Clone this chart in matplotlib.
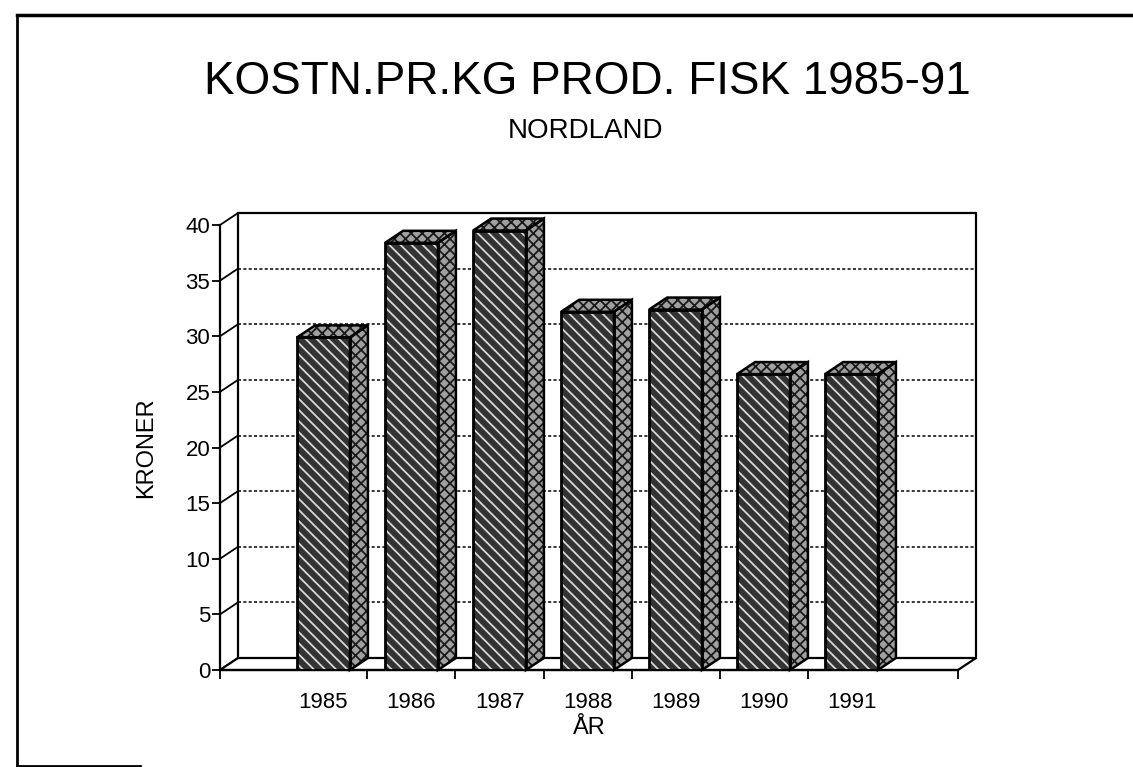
import numpy as np
import matplotlib.pyplot as plt
from matplotlib.patches import Polygon
from matplotlib.lines import Line2D

aar = ['1985', '1986', '1987', '1988', '1989', '1990', '1991']
kroner = [29.9, 38.4, 39.5, 32.2, 32.4, 26.6, 26.6]
yticks = [0, 5, 10, 15, 20, 25, 30, 35, 40]

plt.rcParams['font.family'] = ['Liberation Sans', 'DejaVu Sans']
plt.rcParams['hatch.linewidth'] = 1.3

W, H = 1133, 767
fig = plt.figure(figsize=(W / 100, H / 100), dpi=100)
ax = fig.add_axes([220 / W, (H - 670) / H, 738 / W, 445 / H])

x = np.arange(len(aar))
xlo, xhi = -1.176, 7.21
ymax = 40
ax.set_xlim(xlo, xhi)
ax.set_ylim(0, ymax)

# dybde for 3D-effekten, i dataenheter
dx = 18 / 88
dy = 12 / (445 / 40)
bw = 0.6

# bakvegg
ax.plot([xlo + dx, xlo + dx, xhi + dx, xhi + dx], [dy, ymax + dy, ymax + dy, dy],
        color='black', lw=1.6, clip_on=False, zorder=1)
ax.hlines([v + dy for v in yticks[1:-1]], xlo + dx, xhi + dx, colors='black',
          linestyles=(0, (2, 1.5)), lw=1.1, clip_on=False, zorder=1)

# venstre vegg
for v in yticks:
    ax.plot([xlo, xlo + dx], [v, v + dy], color='black', lw=1.3, clip_on=False, zorder=1)

# gulv
floor = Polygon([(xlo, 0), (xhi, 0), (xhi + dx, dy), (xlo + dx, dy)], closed=True,
                facecolor='white', edgecolor='black', lw=1.6, clip_on=False, zorder=2)
ax.add_patch(floor)

# søyler
ax.bar(x, kroner, width=bw, color='#333333', edgecolor='#d8d8d8', hatch='\\\\\\',
       linewidth=0, zorder=3)
ax.bar(x, kroner, width=bw, fill=False, edgecolor='black', linewidth=2, zorder=4)

for xi, v in zip(x, kroner):
    r = xi + bw / 2
    l = xi - bw / 2
    side = [(r, 0), (r + dx, dy), (r + dx, v + dy), (r, v)]
    top = [(l, v), (r, v), (r + dx, v + dy), (l + dx, v + dy)]
    for pts in (side, top):
        ax.add_patch(Polygon(pts, closed=True, facecolor='#a0a0a0', edgecolor='#1a1a1a',
                             hatch='xxx', lw=0, clip_on=False, zorder=3))
        ax.add_patch(Polygon(pts, closed=True, fill=False, edgecolor='black',
                             lw=1.8, clip_on=False, zorder=4))

for s in ['top', 'right']:
    ax.spines[s].set_visible(False)
ax.spines['left'].set_linewidth(1.6)
ax.spines['bottom'].set_linewidth(1.6)

ax.set_yticks(yticks)
ax.tick_params(axis='y', direction='out', length=6, width=1.3, labelsize=16, pad=1)
ax.set_xticks(x)
ax.set_xticklabels(aar)
ax.tick_params(axis='x', which='major', length=0, labelsize=16, pad=16)
ax.set_xticks([xlo] + list(x[:-1] + 0.5) + [xhi], minor=True)
ax.tick_params(axis='x', which='minor', direction='out', length=6.5, width=1.3)

ax.set_ylabel('KRONER', fontsize=17, labelpad=20)
ax.set_xlabel('ÅR', fontsize=17, labelpad=3)

fig.text(587 / W, 1 - 94 / H, 'KOSTN.PR.KG PROD. FISK 1985-91', fontsize=33,
         ha='center', va='baseline')
fig.text(585 / W, 1 - 138 / H, 'NORDLAND', fontsize=20, ha='center', va='baseline')

# ramme rundt arket
fig.add_artist(Line2D([17 / W, 1], [1 - 15 / H, 1 - 15 / H], color='black', lw=2.5))
fig.add_artist(Line2D([17 / W, 17 / W], [1 - 15 / H, 0], color='black', lw=2))
fig.add_artist(Line2D([17 / W, 140 / W], [1 / H, 1 / H], color='black', lw=2))

fig.savefig('out.png', dpi=100)
